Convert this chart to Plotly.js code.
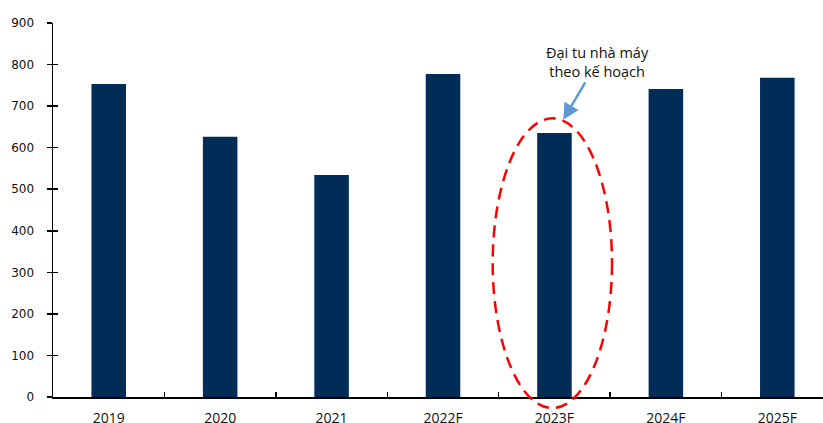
<!DOCTYPE html>
<html>
<head>
<meta charset="utf-8">
<script src="https://cdn.plot.ly/plotly-3.0.1.min.js"></script>
<style>html,body{margin:0;padding:0;background:#fff;}#chart{width:823px;height:423px;}</style>
</head>
<body>
<div id="chart"></div>
<script>
const categories = ["2019", "2020", "2021", "2022F", "2023F", "2024F", "2025F"];
const values = [753, 626, 534, 777, 635, 741, 768];
const yTicks = [0, 100, 200, 300, 400, 500, 600, 700, 800, 900];
const noteText = "Đại tu nhà máy<br>theo kế hoạch";

const traces = [
  {
    type: "bar",
    x: categories,
    y: values,
    marker: { color: "#002c57", line: { width: 0 } },
    hoverinfo: "skip"
  },
  {
    type: "scatter",
    x: [null],
    y: [null],
    yaxis: "y2",
    showlegend: false,
    hoverinfo: "skip"
  }
];

const layout = {
  width: 823,
  height: 423,
  margin: { l: 53, r: 0, t: 23, b: 26 },
  paper_bgcolor: "#ffffff",
  plot_bgcolor: "#ffffff",
  showlegend: false,
  bargap: 0.69,
  xaxis: {
    type: "category",
    range: [-0.5, 6.41],
    showgrid: false,
    zeroline: false,
    showline: true,
    linecolor: "#000000",
    linewidth: 1.5,
    ticks: "inside",
    tickson: "boundaries",
    ticklen: 5,
    tickwidth: 1.5,
    tickcolor: "#000000",
    tickfont: { family: "Open Sans", size: 14, color: "#111111" },
    ticklabelstandoff: 8
  },
  yaxis: {
    range: [0, 900],
    tickvals: yTicks,
    showgrid: false,
    zeroline: false,
    showline: true,
    linecolor: "#000000",
    linewidth: 1.5,
    ticks: "outside",
    ticklen: 5,
    tickwidth: 1.5,
    tickcolor: "#000000",
    tickfont: { family: "DejaVu Sans", size: 12, color: "#111111" },
    ticklabelstandoff: 10
  },
  yaxis2: {
    overlaying: "y",
    side: "left",
    range: [0, 900],
    tickvals: yTicks,
    showgrid: false,
    zeroline: false,
    showline: false,
    showticklabels: false,
    ticks: "inside",
    ticklen: 5,
    tickwidth: 1.5,
    tickcolor: "#000000"
  },
  shapes: [
    {
      type: "circle",
      xref: "paper",
      yref: "paper",
      x0: 0.571,
      x1: 0.726,
      y0: -0.0294,
      y1: 0.745,
      line: { color: "#ff0000", width: 2.5, dash: "12px,7px" },
      fillcolor: "rgba(0,0,0,0)",
      layer: "above"
    }
  ],
  annotations: [
    {
      xref: "paper",
      yref: "paper",
      x: 0.6627,
      y: 0.741,
      text: noteText,
      showarrow: true,
      axref: "pixel",
      ayref: "pixel",
      ax: 34,
      ay: -58,
      arrowhead: 2,
      arrowsize: 1.3,
      arrowwidth: 2.5,
      arrowcolor: "#5b9bd5",
      standoff: 0,
      font: { family: "Open Sans", size: 14.5, color: "#111111" },
      align: "center"
    }
  ]
};

Plotly.newPlot("chart", traces, layout, { displayModeBar: false, staticPlot: true });
</script>
</body>
</html>
